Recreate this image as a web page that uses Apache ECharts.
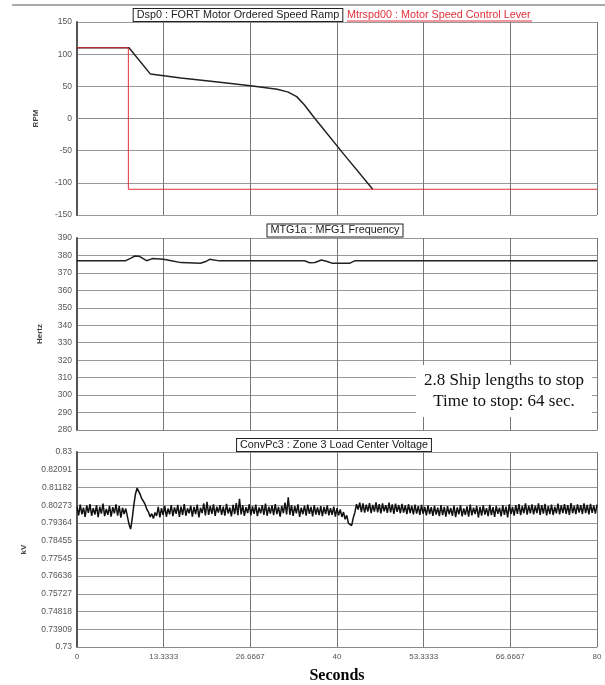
<!DOCTYPE html>
<html>
<head>
<meta charset="utf-8">
<script src="https://cdn.jsdelivr.net/npm/echarts@6/dist/echarts.min.js"></script>
<style>
html, body { margin: 0; padding: 0; background: #fff; }
#chart-container { width: 605px; height: 685px; }
</style>
</head>
<body>
<div id="chart-container"></div>
<script>
// time axis (seconds)
const xTickLabels = ['0', '13.3333', '26.6667', '40', '53.3333', '66.6667', '80'];

// panel 1 : motor ordered speed ramp (RPM)
const rampT = [0, 8.0, 11.3, 16, 21.3, 26.7, 30.8, 32.5, 33.8, 35, 36.6, 41, 45.5];
const rampV = [110, 110, 69, 63, 57, 51, 45.5, 41, 34, 21, 0, -55, -110];
// panel 1 : speed control lever
const leverT = [0, 7.9, 7.9, 80];
const leverV = [110, 110, -110, -110];

// panel 2 : MFG1 frequency (Hertz)
const freqT = [0, 7.5, 8.3, 8.9, 9.6, 10.7, 11.6, 13.3, 14.5, 16, 19, 19.8, 20.4, 21.9,
	35, 35.8, 36.6, 37.6, 38.5, 39.2, 42, 42.8, 80];
const freqV = [377, 377, 378.5, 379.7, 379.5, 377, 378.2, 377.8, 377, 375.9, 375.5, 376.5, 377.8, 376.9,
	377, 375.8, 376, 377.4, 376.5, 375.6, 375.6, 377, 377];

// panel 3 : zone 3 load center voltage (kV), one sample every voltStep seconds
const voltStep = 0.25;
const voltV = [
	0.8021, 0.7975, 0.8030, 0.7981, 0.8015, 0.7967, 0.8026, 0.7988, 0.8033, 0.7973,
	0.8012, 0.7979, 0.8028, 0.7966, 0.8019, 0.7984, 0.8035, 0.7971, 0.8008, 0.7978,
	0.8024, 0.7969, 0.8017, 0.7985, 0.8031, 0.7974, 0.8022, 0.7963, 0.8014, 0.7982,
	0.8010, 0.7970, 0.7930, 0.7905, 0.7960, 0.8030, 0.8085, 0.8115, 0.8098, 0.8080,
	0.8058, 0.8046, 0.8030, 0.8005, 0.7992, 0.7967, 0.7984, 0.7959, 0.7990, 0.7972,
	0.8018, 0.7965, 0.8012, 0.7976, 0.8024, 0.7968, 0.8010, 0.7980, 0.8027, 0.7971,
	0.8016, 0.7983, 0.8029, 0.7967, 0.8020, 0.7977, 0.8033, 0.7973, 0.8011, 0.7986,
	0.8025, 0.7969, 0.8018, 0.7982, 0.8030, 0.7965, 0.8014, 0.7987, 0.8036, 0.7975,
	0.8045, 0.7977, 0.8023, 0.7983, 0.8031, 0.7972, 0.8019, 0.7989, 0.8027, 0.7978,
	0.8020, 0.7974, 0.8034, 0.7985, 0.8015, 0.7970, 0.8029, 0.7981, 0.8038, 0.7976,
	0.8060, 0.7980, 0.8026, 0.7972, 0.8017, 0.7987, 0.8032, 0.7975, 0.8021, 0.7983,
	0.8030, 0.7971, 0.8016, 0.7986, 0.8028, 0.7978, 0.8035, 0.7973, 0.8019, 0.7984,
	0.8026, 0.7976, 0.8033, 0.7982, 0.8018, 0.7969, 0.8024, 0.7987, 0.8040, 0.7980,
	0.8068, 0.7978, 0.8027, 0.7972, 0.8022, 0.7985, 0.8031, 0.7967, 0.8015, 0.7981,
	0.8025, 0.7974, 0.8030, 0.7983, 0.8019, 0.7970, 0.8028, 0.7979, 0.8016, 0.7976,
	0.8023, 0.7971, 0.8018, 0.7982, 0.8026, 0.7975, 0.8012, 0.7978, 0.8020, 0.7969,
	0.8012, 0.7975, 0.8005, 0.7967, 0.7992, 0.7955, 0.7975, 0.7935, 0.7945, 0.7922,
	0.7962, 0.7990, 0.8032, 0.8005, 0.8040, 0.7992, 0.8036, 0.7989, 0.8030, 0.7995,
	0.8038, 0.7987, 0.8029, 0.7994, 0.8042, 0.7990, 0.8033, 0.7985, 0.8036, 0.7996,
	0.8027, 0.7988, 0.8040, 0.7991, 0.8031, 0.7983, 0.8035, 0.7993, 0.8028, 0.7986,
	0.8034, 0.7989, 0.8026, 0.7982, 0.8032, 0.7987, 0.8024, 0.7980, 0.8030, 0.7984,
	0.8022, 0.7977, 0.8029, 0.7983, 0.8019, 0.7975, 0.8026, 0.7981, 0.8017, 0.7972,
	0.8024, 0.7979, 0.8015, 0.7971, 0.8027, 0.7976, 0.8018, 0.7968, 0.8022, 0.7981,
	0.8013, 0.7973, 0.8025, 0.7966, 0.8016, 0.7980, 0.8028, 0.7970, 0.8011, 0.7977,
	0.8021, 0.7968, 0.8030, 0.7975, 0.8014, 0.7982, 0.8023, 0.7964, 0.8019, 0.7974,
	0.8026, 0.7979, 0.8012, 0.7971, 0.8029, 0.7976, 0.8017, 0.7967, 0.8024, 0.7983,
	0.8015, 0.7970, 0.8027, 0.7978, 0.8020, 0.7965, 0.8031, 0.7981, 0.8018, 0.7974,
	0.8028, 0.7983, 0.8033, 0.7976, 0.8022, 0.7986, 0.8036, 0.7979, 0.8025, 0.7985,
	0.8031, 0.7980, 0.8024, 0.7987, 0.8037, 0.7978, 0.8027, 0.7984, 0.8034, 0.7975,
	0.8022, 0.7982, 0.8030, 0.7977, 0.8019, 0.7985, 0.8035, 0.7980, 0.8026, 0.7987,
	0.8033, 0.7983, 0.8028, 0.7978, 0.8038, 0.7986, 0.8024, 0.7981, 0.8031, 0.7989,
	0.8027, 0.7982, 0.8036, 0.7987, 0.8029, 0.7980, 0.8034, 0.7988, 0.8025, 0.7984,
	0.8030
];
const voltTickLabels = ['0.73', '0.73909', '0.74818', '0.75727', '0.76636', '0.77545',
	'0.78455', '0.79364', '0.80273', '0.81182', '0.82091', '0.83'];

const pairs = (xs, ys) => xs.map((x, i) => [x, ys[i]]);
const voltData = voltV.map((v, i) => [i * voltStep, v]);
const voltTicks = voltTickLabels.map(Number);

let dom = document.getElementById('chart-container');
let myChart = echarts.init(dom, null, { renderer: 'canvas' });

const sans = '"Liberation Sans", Arial, sans-serif';
const titleFont = '10.8px ' + sans;
const gridTops = [22, 238, 452];
const gridHeights = [193, 192, 195];

function makeX(i) {
	return {
		type: 'value',
		gridIndex: i,
		min: 0,
		max: 80,
		interval: 80 / 6,
		axisLine: { show: true, lineStyle: { color: '#888', width: 1 } },
		axisTick: { show: false },
		axisLabel: {
			show: i === 2,
			fontSize: 8,
			color: '#555',
			fontFamily: sans,
			margin: 6,
			formatter: function (v) {
				return xTickLabels[Math.round(v / (80 / 6))];
			},
		},
		splitLine: { show: true, lineStyle: { color: '#777', width: 1 } },
		name: i === 2 ? 'Seconds' : '',
		nameLocation: 'middle',
		nameGap: 21,
		nameTextStyle: {
			fontFamily: '"Liberation Serif", "Times New Roman", serif',
			fontWeight: 'bold',
			fontSize: 16,
			color: '#000',
		},
	};
}

const yCommon = {
	type: 'value',
	nameLocation: 'middle',
	nameRotate: 90,
	nameTextStyle: { fontSize: 8, color: '#444', fontFamily: sans, fontWeight: 'bold' },
	axisLine: { show: true, lineStyle: { color: '#555', width: 2 } },
	axisTick: { show: false },
	axisLabel: { fontSize: 8.5, color: '#555', fontFamily: sans, margin: 5 },
	splitLine: { show: true, showMinLine: true, showMaxLine: true, lineStyle: { color: '#999', width: 1 } },
};

function boxedTitle(text, x, y) {
	return {
		type: 'text', z: 100, x: x, y: y,
		style: {
			text: text,
			font: titleFont, fill: '#222',
			align: 'center', verticalAlign: 'middle',
			textAlign: 'center', textVerticalAlign: 'middle',
			borderColor: '#222', borderWidth: 1, padding: [1, 3, 0, 3], backgroundColor: '#fff',
		},
	};
}

option = {
	animation: false,
	backgroundColor: '#fff',
	grid: gridTops.map((t, i) => ({ left: 77, right: 8, top: t, height: gridHeights[i] })),
	xAxis: [makeX(0), makeX(1), makeX(2)],
	yAxis: [
		Object.assign({}, yCommon, {
			gridIndex: 0, min: -150, max: 150, interval: 50,
			name: 'RPM', nameGap: 37,
		}),
		Object.assign({}, yCommon, {
			gridIndex: 1, min: 280, max: 390, interval: 10,
			name: 'Hertz', nameGap: 33,
		}),
		Object.assign({}, yCommon, {
			gridIndex: 2, min: 0.73, max: 0.83,
			name: 'kV', nameGap: 49,
			axisTick: { show: false, customValues: voltTicks },
			axisLabel: Object.assign({}, yCommon.axisLabel, {
				customValues: voltTicks,
				formatter: function (v) {
					return voltTickLabels[Math.round((v - 0.73) / (0.1 / 11))];
				},
			}),
		}),
	],
	graphic: [
		{
			type: 'line', z: 100,
			shape: { x1: 12, y1: 5, x2: 605, y2: 5 },
			style: { stroke: '#aaa', lineWidth: 2 },
		},
		boxedTitle('Dsp0 : FORT Motor Ordered Speed Ramp', 238, 15),
		{
			type: 'text', z: 100, x: 347, y: 15,
			style: {
				text: 'Mtrspd00 : Motor Speed Control Lever',
				font: titleFont, fill: '#e0303a',
				align: 'left', verticalAlign: 'middle',
				textAlign: 'left', textVerticalAlign: 'middle',
			},
		},
		{
			type: 'line', z: 100,
			shape: { x1: 347, y1: 21, x2: 532, y2: 21 },
			style: { stroke: '#e0303a', lineWidth: 1 },
		},
		boxedTitle('MTG1a : MFG1 Frequency', 335, 230.5),
		boxedTitle('ConvPc3 : Zone 3 Load Center Voltage', 334, 445),
		{
			type: 'text', z: 100, x: 504, y: 391,
			style: {
				text: '2.8 Ship lengths to stop\nTime to stop: 64 sec.',
				font: '17px "Liberation Serif", "Times New Roman", serif', fill: '#111',
				align: 'center', verticalAlign: 'middle',
				textAlign: 'center', textVerticalAlign: 'middle',
				lineHeight: 21, backgroundColor: '#fff', padding: [5, 8, 5, 8],
			},
		},
	],
	series: [
		{
			name: 'Dsp0 : FORT Motor Ordered Speed Ramp',
			type: 'line', xAxisIndex: 0, yAxisIndex: 0,
			symbol: 'none', z: 2,
			lineStyle: { color: '#222', width: 1.5 },
			data: pairs(rampT, rampV),
		},
		{
			name: 'Mtrspd00 : Motor Speed Control Lever',
			type: 'line', xAxisIndex: 0, yAxisIndex: 0,
			symbol: 'none', z: 3,
			lineStyle: { color: '#e0303a', width: 1 },
			data: pairs(leverT, leverV),
		},
		{
			name: 'MTG1a : MFG1 Frequency',
			type: 'line', xAxisIndex: 1, yAxisIndex: 1,
			symbol: 'none',
			lineStyle: { color: '#222', width: 1.5 },
			data: pairs(freqT, freqV),
		},
		{
			name: 'ConvPc3 : Zone 3 Load Center Voltage',
			type: 'line', xAxisIndex: 2, yAxisIndex: 2,
			symbol: 'none',
			lineStyle: { color: '#111', width: 1.5 },
			data: voltData,
		},
	],
};

if (option && typeof option === 'object') {
	myChart.setOption(option);
}
window.addEventListener('resize', myChart.resize);
</script>
</body>
</html>
